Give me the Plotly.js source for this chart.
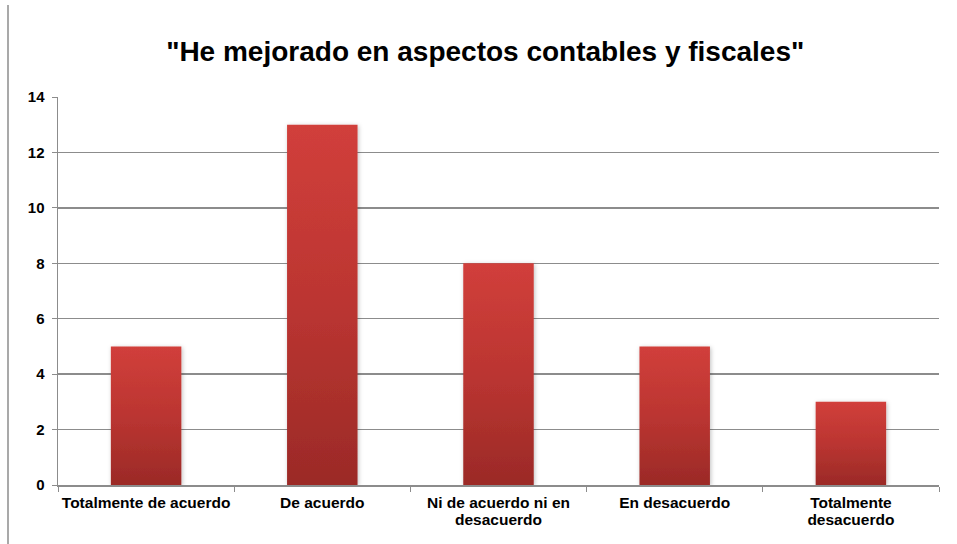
<!DOCTYPE html>
<html><head><meta charset="utf-8">
<script src="https://cdn.plot.ly/plotly-3.0.1.min.js"></script>
<style>html,body{margin:0;padding:0;background:#fff}</style>
</head><body>
<div id="chart" style="width:957px;height:544px"></div>
<script>
const categories = ["Totalmente de acuerdo", "De acuerdo", "Ni de acuerdo ni en<br>desacuerdo", "En desacuerdo", "Totalmente<br>desacuerdo"];
const values = [5, 13, 8, 5, 3];
const yTicks = [0, 2, 4, 6, 8, 10, 12, 14];

const font = "Liberation Sans, Arial, sans-serif";
const data = [{
  type: "bar",
  x: categories,
  y: values,
  marker: {color: "#b8322f", line: {width: 0}},
  hoverinfo: "none"
}];
const layout = {
  width: 957, height: 544,
  margin: {l: 58, r: 18, t: 97, b: 59},
  paper_bgcolor: "#fff", plot_bgcolor: "#fff",
  showlegend: false,
  bargap: 0.6,
  title: {text: "<b>\"He mejorado en aspectos contables y fiscales\"</b>", font: {family: font, size: 28, color: "#000"}, x: 0.507, xref: "container", y: 0.905, yref: "container", yanchor: "middle"},
  xaxis: {
    showgrid: false, showline: true, linecolor: "#8c8c8c", linewidth: 1.5,
    ticks: "outside", tickson: "boundaries", ticklen: 5, tickcolor: "#8c8c8c", tickwidth: 1,
    tickvals: categories, ticktext: categories.map(function(c){ return "<b>" + c.split("<br>").join("</b><br><b>") + "</b>"; }),
    tickfont: {family: font, size: 15.5, color: "#000"},
    ticklabelstandoff: 3,
    tickangle: 0, fixedrange: true
  },
  yaxis: {
    range: [0, 14], tickvals: yTicks, ticktext: yTicks.map(function(v){ return "<b>" + v + "</b>"; }),
    showgrid: true, gridcolor: "#8c8c8c", gridwidth: 1.5,
    showline: true, linecolor: "#8c8c8c", linewidth: 1.5,
    ticks: "outside", ticklen: 5, tickcolor: "#8c8c8c", tickwidth: 1,
    tickfont: {family: font, size: 15, color: "#000"},
    ticklabelstandoff: 4,
    zeroline: false, fixedrange: true
  },
  shapes: [{type: "line", xref: "paper", yref: "paper", x0: -50/881, x1: -50/881, y0: -59/388, y1: 480/388, line: {color: "#8c8c8c", width: 1.5}}]
};
Plotly.newPlot("chart", data, layout, {staticPlot: true}).then(function(){
  const svg = document.querySelector("#chart svg.main-svg");
  const ns = "http://www.w3.org/2000/svg";
  let defs = svg.querySelector("defs");
  const grad = document.createElementNS(ns, "linearGradient");
  grad.setAttribute("id", "barGrad");
  grad.setAttribute("x1", "0"); grad.setAttribute("y1", "0");
  grad.setAttribute("x2", "0"); grad.setAttribute("y2", "1");
  [["0", "#d13f3b"], ["0.5", "#bb3531"], ["1", "#9b2a27"]].forEach(function(s){
    const st = document.createElementNS(ns, "stop");
    st.setAttribute("offset", s[0]); st.setAttribute("stop-color", s[1]);
    grad.appendChild(st);
  });
  defs.appendChild(grad);
  const filt = document.createElementNS(ns, "filter");
  filt.setAttribute("id", "barShadow");
  filt.setAttribute("x", "-20%"); filt.setAttribute("y", "-10%");
  filt.setAttribute("width", "140%"); filt.setAttribute("height", "120%");
  filt.innerHTML = '<feDropShadow dx="1" dy="1" stdDeviation="2" flood-color="#000" flood-opacity="0.25"/>';
  defs.appendChild(filt);
  document.querySelectorAll("#chart .bars .point path").forEach(function(p){
    p.style.fill = "url(#barGrad)";
    p.setAttribute("filter", "url(#barShadow)");
  });
  document.querySelectorAll("#chart .xtick text tspan.line").forEach(function(t, i){
    const dy = t.getAttribute("dy");
    if (dy && parseFloat(dy) > 0) t.setAttribute("dy", "1.08em");
  });
});
</script>
</body></html>
